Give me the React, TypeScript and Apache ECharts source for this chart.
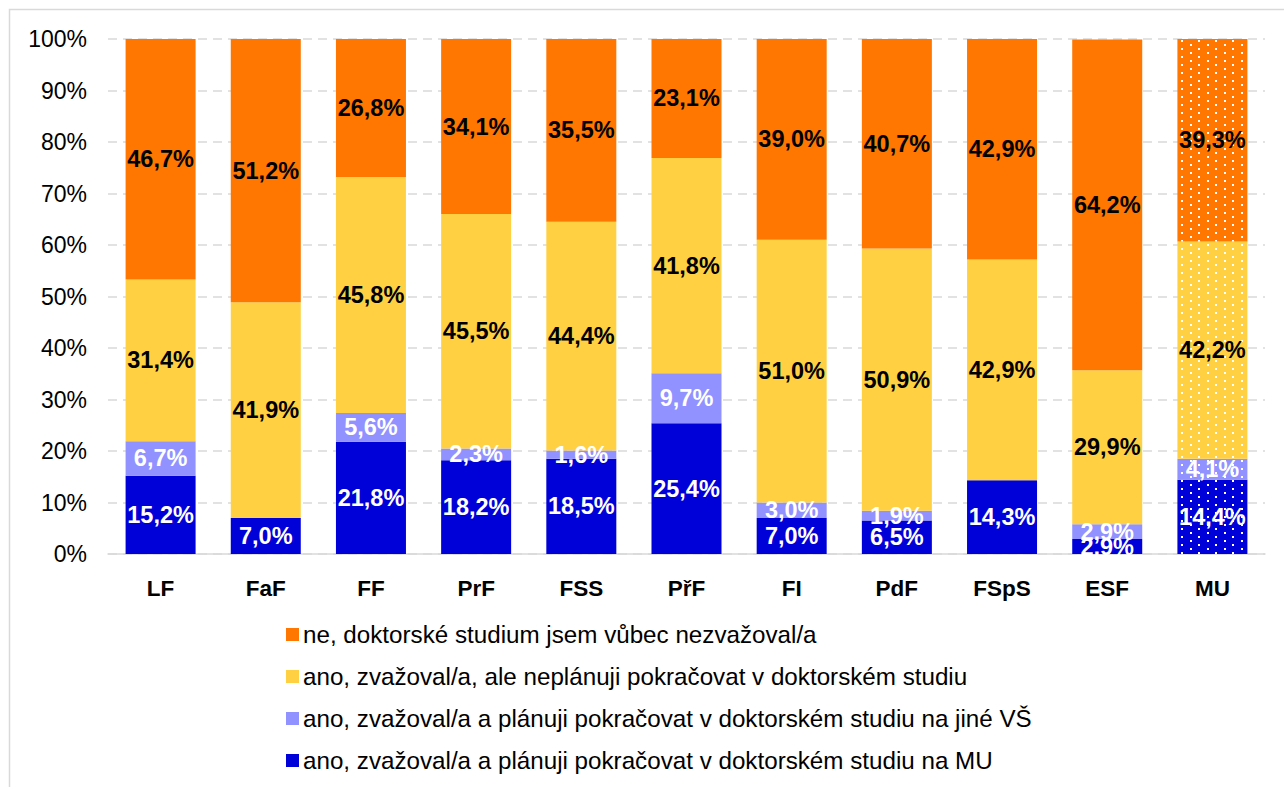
import React, { useEffect, useRef } from "react";
import * as echarts from "echarts";

const categories = ["LF", "FaF", "FF", "PrF", "FSS", "PřF", "FI", "PdF", "FSpS", "ESF", "MU"];
const seriesNames = [
  "ano, zvažoval/a a plánuji pokračovat v doktorském studiu na MU",
  "ano, zvažoval/a a plánuji pokračovat v doktorském studiu na jiné VŠ",
  "ano, zvažoval/a, ale neplánuji pokračovat v doktorském studiu",
  "ne, doktorské studium jsem vůbec nezvažoval/a",
];
const planMU = [15.2, 7.0, 21.8, 18.2, 18.5, 25.4, 7.0, 6.5, 14.3, 2.9, 14.4];
const planOther = [6.7, 0, 5.6, 2.3, 1.6, 9.7, 3.0, 1.9, 0, 2.9, 4.1];
const consideredNo = [31.4, 41.9, 45.8, 45.5, 44.4, 41.8, 51.0, 50.9, 42.9, 29.9, 42.2];
const never = [46.7, 51.2, 26.8, 34.1, 35.5, 23.1, 39.0, 40.7, 42.9, 64.2, 39.3];
const yTicks = [0, 10, 20, 30, 40, 50, 60, 70, 80, 90, 100];

const colors = ["#0000D8", "#9191FF", "#FFD142", "#FF7600"];
const labelColors = ["#ffffff", "#ffffff", "#000000", "#000000"];
const FONT = "'Liberation Sans', Arial, sans-serif";

export default function App() {
  const ref = useRef<HTMLDivElement>(null);
  useEffect(() => {
    if (!ref.current) return;
    const chart = echarts.init(ref.current, undefined, { renderer: "svg" });
    const values = [planMU, planOther, consideredNo, never];
    const decal = {
      symbol: "rect",
      symbolSize: 1,
      color: "#ffffff",
      dashArrayX: [[2, 15], [0, 8, 2, 7]],
      dashArrayY: [2, 2],
      rotation: 0,
    };
    const series = values.map((arr, si) => ({
      name: seriesNames[si],
      type: "bar",
      stack: "total",
      barWidth: 70,
      itemStyle: { color: colors[si] },
      label: {
        show: true,
        position: "inside",
        color: labelColors[si],
        fontFamily: FONT,
        fontWeight: "bold",
        fontSize: 23.5,
        formatter: (p: any) => (p.value ? p.value.toFixed(1).replace(".", ",") + "%" : ""),
      },
      data: arr.map((v, i) =>
        categories[i] === "MU" ? { value: v, itemStyle: { color: colors[si], decal } } : v
      ),
    }));
    chart.setOption({
      animation: false,
      backgroundColor: "#ffffff",
      graphic: [
        {
          type: "rect",
          shape: { x: 9.5, y: 9.5, width: 1300, height: 800 },
          style: { fill: "none", stroke: "#d9d9d9", lineWidth: 1.5 },
          silent: true,
        },
      ],
      grid: { left: 108, right: 19, top: 39, bottom: 233, containLabel: false },
      legend: {
        orient: "vertical",
        left: 281,
        top: 617,
        data: [seriesNames[3], seriesNames[2], seriesNames[1], seriesNames[0]],
        itemWidth: 13,
        itemHeight: 13,
        itemGap: 17,
        icon: "rect",
        selectedMode: false,
        textStyle: { fontFamily: FONT, fontSize: 24.2, color: "#000", lineHeight: 25, padding: [0, 0, 0, -1] },
      },
      xAxis: {
        type: "category",
        data: categories,
        axisLine: { lineStyle: { color: "#d9d9d9", width: 1.5 } },
        axisTick: { show: false },
        axisLabel: {
          color: "#000",
          fontFamily: FONT,
          fontWeight: "bold",
          fontSize: 22.5,
          margin: 23,
        },
      },
      yAxis: {
        type: "value",
        min: yTicks[0],
        max: yTicks[yTicks.length - 1],
        interval: 10,
        axisLine: { show: false },
        axisTick: { show: false },
        splitLine: { lineStyle: { color: "#d9d9d9", type: [9, 6], width: 1.5 } },
        axisLabel: {
          color: "#000",
          fontFamily: FONT,
          fontSize: 23,
          margin: 21,
          formatter: (v: number) => v + "%",
        },
      },
      series,
    });
    return () => chart.dispose();
  }, []);
  return (
    <div
      ref={ref}
      style={{ position: "absolute", left: 0, top: 0, width: 1284, height: 787, background: "#fff" }}
    />
  );
}
